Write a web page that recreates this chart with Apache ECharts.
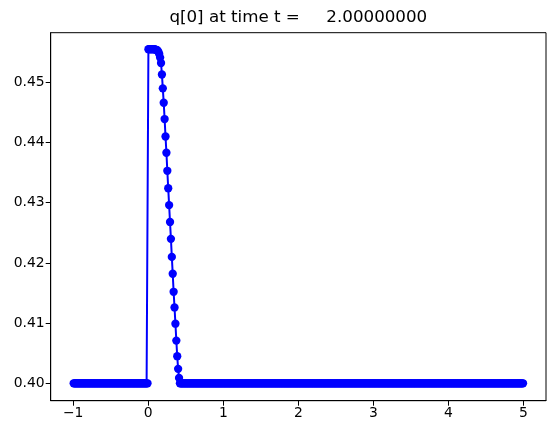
<!DOCTYPE html>
<html><head><meta charset="utf-8">
<script src="https://cdn.jsdelivr.net/npm/echarts@6/dist/echarts.min.js"></script>
<style>html,body{margin:0;padding:0;background:#fff}#c{width:556px;height:435px}</style>
</head><body><div id="c"></div>
<script>
// grid of cell centres
const xLower = -1;
const dx = 0.012;
// values
const leftBaseCount = 83;      // cells with x < 0 at the base level
const baseLevel = 0.4;
const humpValues = [
  0.4555, 0.4555, 0.4555, 0.4555, 0.4555, 0.4555, 0.4555, 0.4555, 0.4554, 0.4554,
  0.4553, 0.4551, 0.4547, 0.4541,
  0.4532, 0.4513, 0.4490, 0.4466, 0.4439, 0.4410, 0.4383, 0.4353, 0.4324, 0.4296,
  0.4268, 0.4240, 0.4210, 0.4182, 0.4152, 0.4126, 0.4099, 0.4071, 0.4045, 0.4024,
  0.4009, 0.4000
];
const rightBaseCount = 381;    // cells after the hump at the base level
const xTicks = [-1, 0, 1, 2, 3, 4, 5];
const yTicks = [0.40, 0.41, 0.42, 0.43, 0.44, 0.45];
const titleText = 'q[0] at time t =     2.00000000';

const qValues = [];
for (let i = 0; i < leftBaseCount; i++) qValues.push(baseLevel);
humpValues.forEach(v => qValues.push(v));
for (let i = 0; i < rightBaseCount; i++) qValues.push(baseLevel);
const seriesData = qValues.map((v, i) => [xLower + (i + 0.5) * dx, v]);

const font = 'DejaVu Sans';
const chart = echarts.init(document.getElementById('c'), null, {renderer: 'canvas'});
chart.setOption({
  animation: false,
  backgroundColor: '#fff',
  graphic: [{
    type: 'text', x: 298.3, y: 17.5,
    style: {text: titleText, font: '16.7px "DejaVu Sans"', fill: '#000', textAlign: 'center', textVerticalAlign: 'middle'}
  }],
  grid: {left: 50.7, right: 10, top: 32.7, bottom: 34.3, show: true, borderColor: '#000', borderWidth: 1, backgroundColor: 'transparent'},
  xAxis: {
    type: 'value', min: -1.3, max: 5.3,
    splitLine: {show: false},
    axisLine: {show: true, onZero: false, lineStyle: {color: '#000', width: 1}},
    axisTick: {show: true, length: 5, lineStyle: {color: '#000', width: 1}, customValues: xTicks},
    axisLabel: {color: '#000', fontFamily: font, fontSize: 13.9, margin: 6, customValues: xTicks,
      formatter: v => (v < 0 ? '\u2212' + Math.abs(v) : String(v))}
  },
  yAxis: {
    type: 'value', min: 0.39711, max: 0.45824,
    splitLine: {show: false},
    axisLine: {show: true, onZero: false, lineStyle: {color: '#000', width: 1}},
    axisTick: {show: true, length: 5, lineStyle: {color: '#000', width: 1}, customValues: yTicks},
    axisLabel: {color: '#000', fontFamily: font, fontSize: 13.9, margin: 6, customValues: yTicks,
      formatter: v => v.toFixed(2)}
  },
  series: [{
    type: 'line', data: seriesData,
    symbol: 'circle', symbolSize: 8.3, showAllSymbol: true,
    lineStyle: {color: '#0000ff', width: 2},
    itemStyle: {color: '#0000ff', borderWidth: 0},
    emphasis: {disabled: true}
  }]
});
</script></body></html>
